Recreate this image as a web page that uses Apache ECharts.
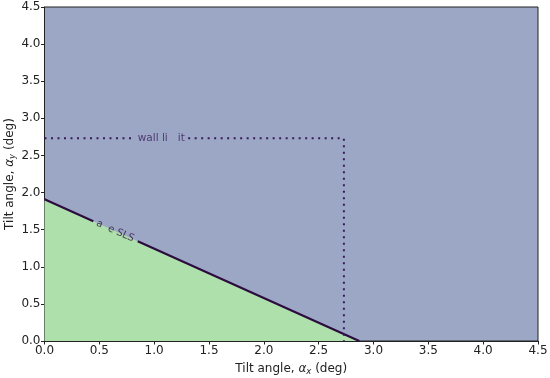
<!DOCTYPE html>
<html>
<head>
<meta charset="utf-8">
<script src="https://cdn.jsdelivr.net/npm/echarts@6/dist/echarts.min.js"></script>
<style>html,body{margin:0;padding:0;background:#fff}#c{width:550px;height:378px}</style>
</head>
<body>
<div id="c"></div>
<script>
// Axis ticks
const xTicks = [0, 0.5, 1.0, 1.5, 2.0, 2.5, 3.0, 3.5, 4.0, 4.5];
const yTicks = [0, 0.5, 1.0, 1.5, 2.0, 2.5, 3.0, 3.5, 4.0, 4.5];
// SLS boundary (full, for the green region)
const slsBoundary = [[0, 1.91], [2.87, 0]];
// SLS line drawn in two parts around its inline label
const slsLinePartA = [[0, 1.91], [0.445, 1.614]];
const slsLinePartB = [[0.85, 1.344], [2.87, 0]];
// Wall limit (dotted), split around its inline label
const wallLimitPartA = [[0, 2.73], [0.79, 2.73]];
const wallLimitPartB = [[1.31, 2.73], [2.73, 2.73], [2.73, 0]];
// Labels
const labelTexts = ['wall li   it', 'a  e SLS'];
const labelPos = [[1.065, 2.73], [0.645, 1.48]];

const chart = echarts.init(document.getElementById('c'), null, {renderer: 'canvas'});
const font = 'DejaVu Sans';
const dark = '#2c0b3f';
const dotColor = '#3a1a5c';
const nameRich = () => ({
  i: {fontStyle: 'italic', fontFamily: font, fontSize: 12, color: '#222'},
  s: {fontStyle: 'italic', fontFamily: font, fontSize: 8.5, color: '#222', padding: [6, 0, 0, 0]}
});
chart.setOption({
  animation: false,
  grid: {left: 44.5, right: 12, top: 7, bottom: 37, outerBoundsMode: 'none', containLabel: false, show: true, backgroundColor: '#9ca7c5', borderColor: '#222', borderWidth: 1},
  xAxis: {
    type: 'value', min: 0, max: 4.5, interval: 0.5,
    name: 'Tilt angle, {i|α}{s|x} (deg)', nameLocation: 'middle', nameGap: 20, nameMoveOverlap: false,
    nameTextStyle: {fontFamily: font, fontSize: 12, color: '#222', rich: nameRich()},
    axisLine: {show: true, onZero: false, lineStyle: {color: '#222', width: 1}},
    axisTick: {show: true, length: 3.5, lineStyle: {color: '#222'}},
    axisLabel: {fontFamily: font, fontSize: 12, color: '#222', margin: 4, formatter: v => v.toFixed(1)},
    splitLine: {show: false}
  },
  yAxis: {
    type: 'value', min: 0, max: 4.5, interval: 0.5,
    name: 'Tilt angle, {i|α}{s|y} (deg)', nameLocation: 'middle', nameGap: 27, nameMoveOverlap: false,
    nameTextStyle: {fontFamily: font, fontSize: 12, color: '#222', rich: nameRich()},
    axisLine: {show: true, onZero: false, lineStyle: {color: '#222', width: 1}},
    axisTick: {show: true, length: 3.5, lineStyle: {color: '#222'}},
    axisLabel: {fontFamily: font, fontSize: 12, color: '#222', margin: 4, formatter: v => v.toFixed(1)},
    splitLine: {show: false}
  },
  series: [
    {type: 'line', data: slsBoundary, symbol: 'none', lineStyle: {width: 0}, areaStyle: {color: '#ade0aa', opacity: 1}, z: 1},
    {type: 'line', data: slsLinePartA, symbol: 'none', lineStyle: {color: dark, width: 2.2}, z: 3},
    {type: 'line', data: slsLinePartB, symbol: 'none', lineStyle: {color: dark, width: 2.2}, z: 3},
    {type: 'line', data: wallLimitPartA, symbol: 'none', lineStyle: {color: dotColor, width: 2, type: [2, 4.5], cap: 'butt'}, z: 3},
    {type: 'line', data: wallLimitPartB, symbol: 'none', lineStyle: {color: dotColor, width: 2, type: [2, 4.5], cap: 'butt'}, z: 3},
    {type: 'scatter', symbolSize: 0, z: 4,
      data: [
        {value: labelPos[0], label: {show: true, formatter: labelTexts[0], position: 'inside', rotate: 0, color: '#3a1a5c', fontFamily: font, fontSize: 10.5}},
        {value: labelPos[1], label: {show: true, formatter: labelTexts[1], position: 'inside', rotate: -24, color: '#2c0b3f', fontFamily: font, fontSize: 10}}
      ]
    }
  ]
});
</script>
</body>
</html>
